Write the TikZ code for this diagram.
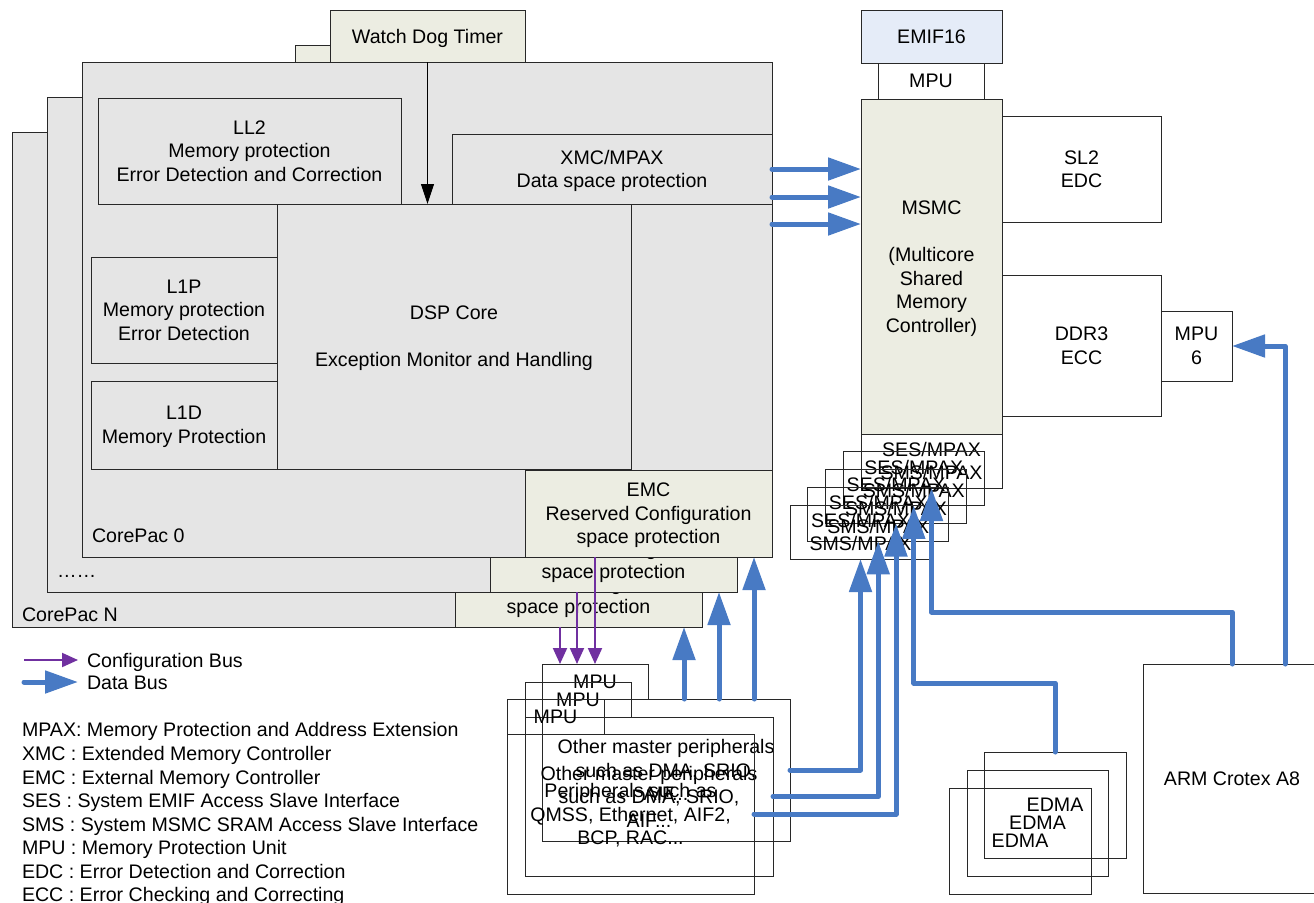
\documentclass[tikz,border=0pt]{standalone}
\usepackage{fontspec}
\setmainfont{Liberation Sans}
\usetikzlibrary{arrows.meta,calc}
\definecolor{corefill}{RGB}{229,229,229}
\definecolor{beige}{RGB}{236,237,226}
\definecolor{emifblue}{RGB}{229,236,248}
\definecolor{busblue}{RGB}{72,122,196}
\definecolor{cfgpurple}{RGB}{112,48,160}
\definecolor{edgecol}{RGB}{40,40,40}
\newcommand\diagfont{\fontsize{19.6}{23.6}\selectfont}
\begin{document}
\begin{tikzpicture}[x=1pt,y=-1pt,
  every node/.style={font=\diagfont, inner sep=0pt, outer sep=0pt, align=center},
  blk/.style 2 args={draw=edgecol, line width=0.8pt, minimum width=#1pt, minimum height=#2pt, text depth=0pt},
  lbl/.style={anchor=base west},
  dbus/.style={draw=busblue, line width=5pt, line join=round, line cap=round, -{Triangle[length=33pt,width=22pt]}},
  cfg/.style={draw=cfgpurple, line width=2pt, -{Triangle[length=16pt,width=14pt]}},
  wdarrow/.style={draw=black, line width=1pt, -{Triangle[length=20pt,width=13pt]}}
]
\useasboundingbox (0,0) rectangle (1314,902);
\fill[white] (0,0) rectangle (1314,902);
\clip (0,0) rectangle (1314,902);

% ---- CorePac N
\node[blk={690}{495}, fill=corefill] (coreN) at (357,379.5) {};
\node[lbl] (labN) at (22,621) {CorePac N};
\node[blk={247}{87}, fill=beige] (emcN) at (578.5,583.5) {EMC\\Reserved Configuration\\space protection};
% ---- CorePac ...
\node[blk={195}{52}, fill=beige] (wdM) at (392.5,71) {Watch Dog Timer};
\node[blk={690}{495}, fill=corefill] (coreM) at (392,344.5) {};
\node[lbl] (labM) at (57,577) {……};
\node[blk={247}{87}, fill=beige] (emcM) at (613.5,548.5) {EMC\\Reserved Configuration\\space protection};
% ---- CorePac 0
\node[blk={195}{52}, fill=beige] (wd0) at (427.5,36) {Watch Dog Timer};
\node[blk={690}{495}, fill=corefill] (core0) at (427,309.5) {};
\node[lbl] (lab0) at (92,542) {CorePac 0};
\node[blk={303}{106}, fill=corefill] (ll2) at (249.5,151) {LL2\\Memory protection\\Error Detection and Correction};
\node[blk={320}{70}, fill=corefill] (xmc) at (612,169) {XMC/MPAX\\Data space protection};
\node[blk={354}{265}, fill=corefill] (dsp) at (454,336.5) {DSP Core\\[23.6pt]Exception Monitor and Handling};
\node[blk={186}{106}, fill=corefill] (l1p) at (184,310) {L1P\\Memory protection\\Error Detection};
\node[blk={186}{88}, fill=corefill] (l1d) at (184,425) {L1D\\Memory Protection};
\node[blk={247}{87}, fill=beige] (emc0) at (648.5,513.5) {EMC\\Reserved Configuration\\space protection};

% ---- MSMC side
\node[blk={141}{53}, fill=emifblue] (emif) at (931.5,36.5) {EMIF16};
\node[blk={106}{36}, fill=white] (mputop) at (931,81) {MPU};
\node[blk={141}{335}, fill=beige] (msmc) at (931.5,266.5) {MSMC\\[23.6pt](Multicore\\Shared\\Memory\\Controller)};
\node[blk={159}{106}] (sl2) at (1081.5,169) {SL2\\EDC};
\node[blk={159}{141}] (ddr3) at (1081.5,345.5) {DDR3\\ECC};
\node[blk={71}{70}] (mpu6) at (1196.5,346) {MPU\\6};
\node[blk={141}{54}] (ses1) at (931.5,461) {SES/MPAX\\SMS/MPAX};
\node[blk={141}{54}] (ses2) at (913.75,478.75) {SES/MPAX\\SMS/MPAX};
\node[blk={141}{54}] (ses3) at (896,496.5) {SES/MPAX\\SMS/MPAX};
\node[blk={141}{54}] (ses4) at (878.25,514.25) {SES/MPAX\\SMS/MPAX};
\node[blk={141}{54}] (ses5) at (860.5,532) {SES/MPAX\\SMS/MPAX};

% ---- peripherals
\node[blk={106}{35}] (m1) at (595,681.5) {MPU};
\node[blk={248}{142}] (p1) at (666,770) {Other master peripherals\\such as DMA, SRIO,\\AIF...};
\node[blk={106}{35}] (m2) at (578,699.5) {MPU};
\node[blk={248}{159}] (p2) at (649,796.5) {Other master peripherals\\such as DMA, SRIO,\\AIF...};
\node[blk={97}{35}] (m3) at (555.5,716.5) {MPU};
\node[blk={247}{160}] (p3) at (630.5,814) {Peripherals such as\\QMSS, Ethernet, AIF2,\\BCP, RAC...};

% ---- EDMA and ARM
\node[blk={142}{106}] (e1) at (1055,805) {EDMA};
\node[blk={141}{106}] (e2) at (1037.5,823) {EDMA};
\node[blk={142}{106}] (e3) at (1020,841) {EDMA};
\node[blk={178}{229}] (arm) at (1232,778.5) {ARM Crotex A8};

% ---- connectors
\draw[wdarrow] (wd0.south) -- (wd0.south |- dsp.north);
\draw[dbus] (xmc.east) -- (xmc.east -| msmc.west);
\draw[dbus] ([yshift=-28pt]xmc.east) -- ([yshift=-28pt]xmc.east -| msmc.west);
\draw[dbus] ([yshift=-55pt]xmc.east) -- ([yshift=-55pt]xmc.east -| msmc.west);

\coordinate (c2) at ($(m1.north)+(-18,0)$);
\coordinate (c3) at ($(m1.north)+(-35,0)$);
\draw[cfg] (emc0.south -| m1.north) -- (m1.north);
\draw[cfg] (emcM.south -| c2) -- (c2);
\draw[cfg] (emcN.south -| c3) -- (c3);

\coordinate (u1) at ($(p1.north west)+(142,0)$);
\coordinate (u2) at ($(p1.north west)+(177,0)$);
\coordinate (u3) at ($(p1.north west)+(212,0)$);
\draw[dbus] (u1) -- (u1 |- emcN.south);
\draw[dbus] (u2) -- (u2 |- emcM.south);
\draw[dbus] (u3) -- (u3 |- emc0.south);

\draw[dbus] (p1.east) -| (ses5.south);
\draw[dbus] (p2.east) -| (ses4.south);
\draw[dbus] (p3.east) -| (ses3.south);
\draw[dbus] (e1.north) -- ++(0,-69) -| (ses2.south);
\draw[dbus] (arm.north) -- ++(0,-52) -| (ses1.south);
\coordinate (a2) at ($(arm.north)+(53,0)$);
\draw[dbus] (a2) |- (mpu6.east);

% ---- legend
\coordinate (lg1a) at (24,660); \coordinate (lg1b) at (78,660);
\coordinate (lg2a) at (24,682); \coordinate (lg2b) at (78,682);
\draw[cfg] (lg1a) -- (lg1b);
\draw[dbus] (lg2a) -- (lg2b);
\node[lbl] (lgc) at (87,667) {Configuration Bus};
\node[lbl] (lgd) at (87,689) {Data Bus};
\node[lbl] (ab1) at (22,736) {MPAX: Memory Protection and Address Extension};
\node[lbl] (ab2) at (22,760) {XMC : Extended Memory Controller};
\node[lbl] (ab3) at (22,784) {EMC : External Memory Controller};
\node[lbl] (ab4) at (22,807) {SES : System EMIF Access Slave Interface};
\node[lbl] (ab5) at (22,831) {SMS : System MSMC SRAM Access Slave Interface};
\node[lbl] (ab6) at (22,854) {MPU : Memory Protection Unit};
\node[lbl] (ab7) at (22,878) {EDC : Error Detection and Correction};
\node[lbl] (ab8) at (22,901) {ECC : Error Checking and Correcting};
\end{tikzpicture}
\end{document}
